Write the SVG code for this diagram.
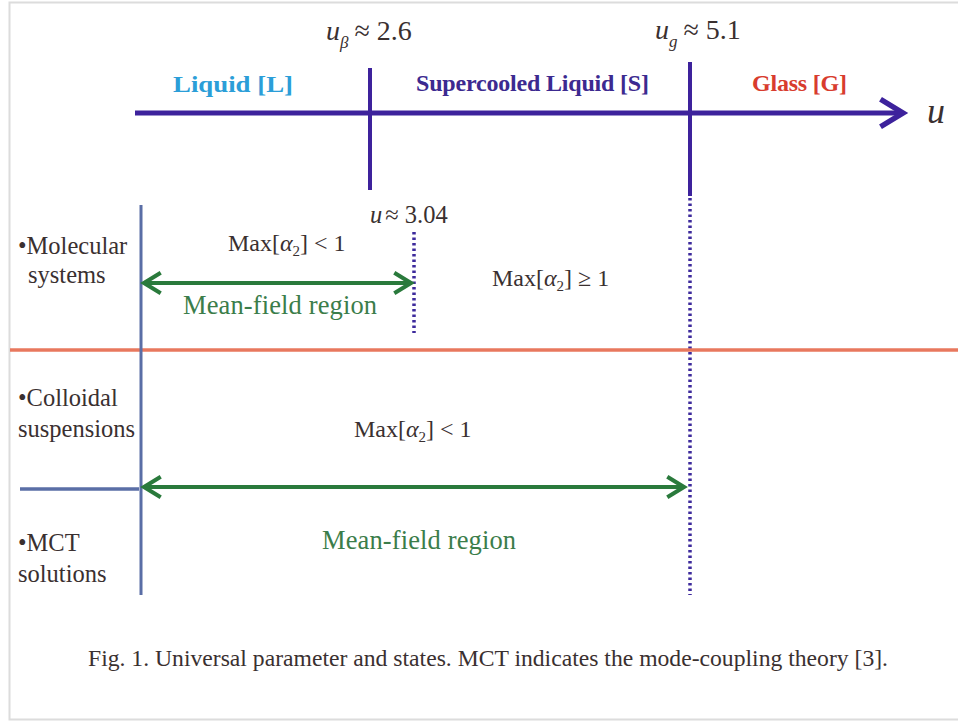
<svg xmlns="http://www.w3.org/2000/svg" width="958" height="724" viewBox="0 0 958 724">
  <style>
    .serif { font-family: "Liberation Serif", "Times New Roman", serif; fill: #3a3030; }
    .phase { font-family: "Liberation Serif", "Times New Roman", serif; font-weight: bold; font-size: 24px; }
    .label { font-size: 24.5px; }
    .math { font-size: 24px; }
    .green { fill: #3b7d4a; font-size: 26.5px; }
    .it { font-style: italic; }
    .axis { stroke: #3d229c; stroke-width: 5; fill: none; }
    .dots { stroke: #3d2a9c; stroke-width: 3.5; stroke-dasharray: 2.5 3; fill: none; }
    .span { stroke: #2a7a3c; stroke-width: 4; fill: none; }
  </style>
  <defs>
    <marker id="chev-green" viewBox="0 0 14 14" refX="11" refY="7" markerWidth="6.5" markerHeight="6.5" markerUnits="strokeWidth" orient="auto-start-reverse">
      <path d="M2,1.5 L11,7 L2,12.5" fill="none" stroke="#2a7a3c" stroke-width="2.2"/>
    </marker>
    <marker id="chev-axis" viewBox="0 0 14 14" refX="11" refY="7" markerWidth="7" markerHeight="7" markerUnits="strokeWidth" orient="auto">
      <path d="M2,1.5 L11,7 L2,12.5" fill="none" stroke="#3d229c" stroke-width="2.2"/>
    </marker>
  </defs>

  <rect x="0" y="0" width="958" height="724" fill="#ffffff"/>
  <!-- frame -->
  <path d="M958,2.5 H9.5 V719.5 H958" fill="none" stroke="#dcdcdc" stroke-width="2"/>

  <!-- connectors and boundary lines -->
  <g id="connectors">
    <line x1="135" y1="113" x2="903" y2="113" class="axis" marker-end="url(#chev-axis)"/>
    <line x1="370" y1="68" x2="370" y2="190" stroke="#3d229c" stroke-width="4"/>
    <line x1="690" y1="62" x2="690" y2="196" stroke="#3d229c" stroke-width="4"/>
    <line x1="690" y1="198" x2="690" y2="595" class="dots"/>
    <line x1="414" y1="232" x2="414" y2="333" class="dots"/>
    <line x1="10" y1="350" x2="958" y2="350" stroke="#e8785e" stroke-width="3.5"/>
    <line x1="141" y1="205" x2="141" y2="595" stroke="#5a6ea6" stroke-width="3"/>
    <line x1="20" y1="489" x2="139" y2="489" stroke="#5a6ea6" stroke-width="3.5"/>
    <line x1="144" y1="283" x2="411" y2="283" class="span" marker-start="url(#chev-green)" marker-end="url(#chev-green)"/>
    <line x1="144" y1="487" x2="684" y2="487" class="span" marker-start="url(#chev-green)" marker-end="url(#chev-green)"/>
  </g>

  <!-- axis labels -->
  <g id="ubeta">
    <text x="326" y="40" class="serif" font-size="28"><tspan class="it">u</tspan><tspan class="it" font-size="17" dy="8">β</tspan><tspan dy="-8" dx="6">≈ 2.6</tspan></text>
  </g>
  <g id="ug">
    <text x="655" y="39" class="serif" font-size="28"><tspan class="it">u</tspan><tspan class="it" font-size="17" dy="8">g</tspan><tspan dy="-8" dx="6">≈ 5.1</tspan></text>
  </g>
  <g id="u-axis-label">
    <text x="927" y="123" class="serif it" font-size="36">u</text>
  </g>

  <!-- phases -->
  <g id="liquid">
    <text x="173" y="92" class="phase" fill="#2b9ed8" textLength="120" lengthAdjust="spacingAndGlyphs">Liquid [L]</text>
  </g>
  <g id="supercooled">
    <text x="416" y="91" class="phase" fill="#3c2a90" textLength="233">Supercooled Liquid [S]</text>
  </g>
  <g id="glass">
    <text x="752" y="91" class="phase" fill="#d83c2e" textLength="95">Glass [G]</text>
  </g>

  <!-- molecular systems row -->
  <g id="molecular">
    <text x="18" y="254" class="serif label">•Molecular</text>
    <text x="28" y="283" class="serif label">systems</text>
  </g>
  <g id="u304">
    <text x="370" y="223" class="serif" font-size="24.5"><tspan class="it">u</tspan><tspan dx="3">≈ 3.04</tspan></text>
  </g>
  <g id="mol-lt">
    <text x="228" y="251" class="serif math">Max[<tspan class="it">α</tspan><tspan font-size="15" dy="5">2</tspan><tspan dy="-5">] &lt; 1</tspan></text>
  </g>
  <g id="mol-mf">
    <text x="183" y="314" class="serif green" textLength="194">Mean-field region</text>
  </g>
  <g id="mol-ge">
    <text x="492" y="286" class="serif math">Max[<tspan class="it">α</tspan><tspan font-size="15" dy="5">2</tspan><tspan dy="-5">] ≥ 1</tspan></text>
  </g>

  <!-- colloidal / MCT rows -->
  <g id="colloidal">
    <text x="18" y="406" class="serif label">•Colloidal</text>
    <text x="18" y="437" class="serif label">suspensions</text>
  </g>
  <g id="mct">
    <text x="18" y="551" class="serif label">•MCT</text>
    <text x="18" y="582" class="serif label">solutions</text>
  </g>
  <g id="col-lt">
    <text x="354" y="437" class="serif math">Max[<tspan class="it">α</tspan><tspan font-size="15" dy="5">2</tspan><tspan dy="-5">] &lt; 1</tspan></text>
  </g>
  <g id="col-mf">
    <text x="322" y="549" class="serif green" textLength="194">Mean-field region</text>
  </g>

  <!-- caption -->
  <g id="caption">
    <text x="88" y="666" class="serif" font-size="23" textLength="800" lengthAdjust="spacingAndGlyphs">Fig. 1. Universal parameter and states. MCT indicates the mode-coupling theory [3].</text>
  </g>
</svg>
